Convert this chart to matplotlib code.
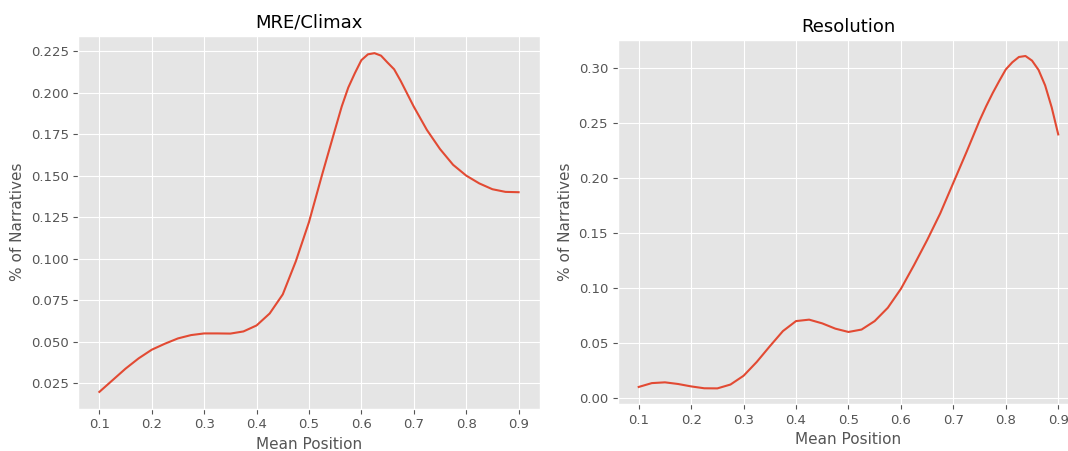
import matplotlib
matplotlib.use("Agg")
import matplotlib.pyplot as plt

# Values (extra readings near the peaks)
climax_x = [0.100, 0.125, 0.150, 0.175, 0.200, 0.225, 0.250, 0.275, 0.300,
            0.325, 0.350, 0.375, 0.400, 0.425, 0.450, 0.475, 0.500, 0.525,
            0.550, 0.5625, 0.575, 0.5875, 0.600, 0.6125, 0.625, 0.6375,
            0.650, 0.6625, 0.675, 0.700, 0.725, 0.750, 0.775, 0.800, 0.825,
            0.850, 0.875, 0.900]
climax_y = [0.0198, 0.0268, 0.0338, 0.0400, 0.0452, 0.0488, 0.0520, 0.0540,
            0.0550, 0.0550, 0.0549, 0.0562, 0.0598, 0.0670, 0.0785, 0.0985,
            0.1220, 0.1505, 0.1780, 0.1916, 0.2030, 0.2116, 0.2195, 0.2230,
            0.2237, 0.2222, 0.2180, 0.2140, 0.2070, 0.1915, 0.1775, 0.1660,
            0.1565, 0.1500, 0.1453, 0.1418, 0.1402, 0.1400]

resolution_x = [0.100, 0.125, 0.150, 0.175, 0.200, 0.225, 0.250, 0.275,
                0.300, 0.325, 0.350, 0.375, 0.400, 0.425, 0.450, 0.475,
                0.500, 0.525, 0.550, 0.575, 0.600, 0.625, 0.650, 0.675,
                0.700, 0.725, 0.750, 0.7625, 0.775, 0.7875, 0.800, 0.8125,
                0.825, 0.8375, 0.850, 0.8625, 0.875, 0.8875, 0.900]
resolution_y = [0.0098, 0.0133, 0.0140, 0.0125, 0.0103, 0.0086, 0.0085,
                0.0120, 0.0200, 0.0325, 0.0468, 0.0606, 0.0697, 0.0710,
                0.0676, 0.0628, 0.0598, 0.0620, 0.0697, 0.0818, 0.0990,
                0.1206, 0.1433, 0.1676, 0.1955, 0.2233, 0.2520, 0.2650,
                0.2770, 0.2880, 0.2985, 0.3050, 0.3098, 0.3107, 0.3065,
                0.2980, 0.2840, 0.2640, 0.2394]

x_ticks = [0.1, 0.2, 0.3, 0.4, 0.5, 0.6, 0.7, 0.8, 0.9]
climax_yticks = [0.025, 0.050, 0.075, 0.100, 0.125, 0.150, 0.175, 0.200, 0.225]
resolution_yticks = [0.00, 0.05, 0.10, 0.15, 0.20, 0.25, 0.30]


def draw(ax, xs, ys, title, yticks, ylim, fmt):
    ax.plot(xs, ys, color="#E24A33", linewidth=1.5)
    ax.set_title(title, fontsize=13)
    ax.set_xlabel("Mean Position", fontsize=11)
    ax.set_ylabel("% of Narratives", fontsize=11)
    ax.set_xticks(x_ticks)
    ax.set_xticklabels([f"{t:.1f}" for t in x_ticks])
    ax.set_yticks(yticks)
    ax.set_yticklabels([fmt.format(t) for t in yticks])
    ax.set_xlim(0.06, 0.94)
    ax.set_ylim(*ylim)
    ax.tick_params(labelsize=9.5)


def main():
    plt.style.use("ggplot")
    fig = plt.figure(figsize=(10.68, 4.51), dpi=100)

    left = fig.add_axes([0.0734, 0.0942, 0.4318, 0.8266])
    draw(left, climax_x, climax_y, "MRE/Climax", climax_yticks,
         (0.0098, 0.2342), "{:.3f}")

    # the right panel runs slightly past the figure edge in the reference
    right = fig.add_axes([0.5784, 0.1042, 0.4321, 0.807])
    draw(right, resolution_x, resolution_y, "Resolution", resolution_yticks,
         (-0.0057, 0.3252), "{:.2f}")

    fig.savefig("out.png", dpi=100)


if __name__ == "__main__":
    main()
